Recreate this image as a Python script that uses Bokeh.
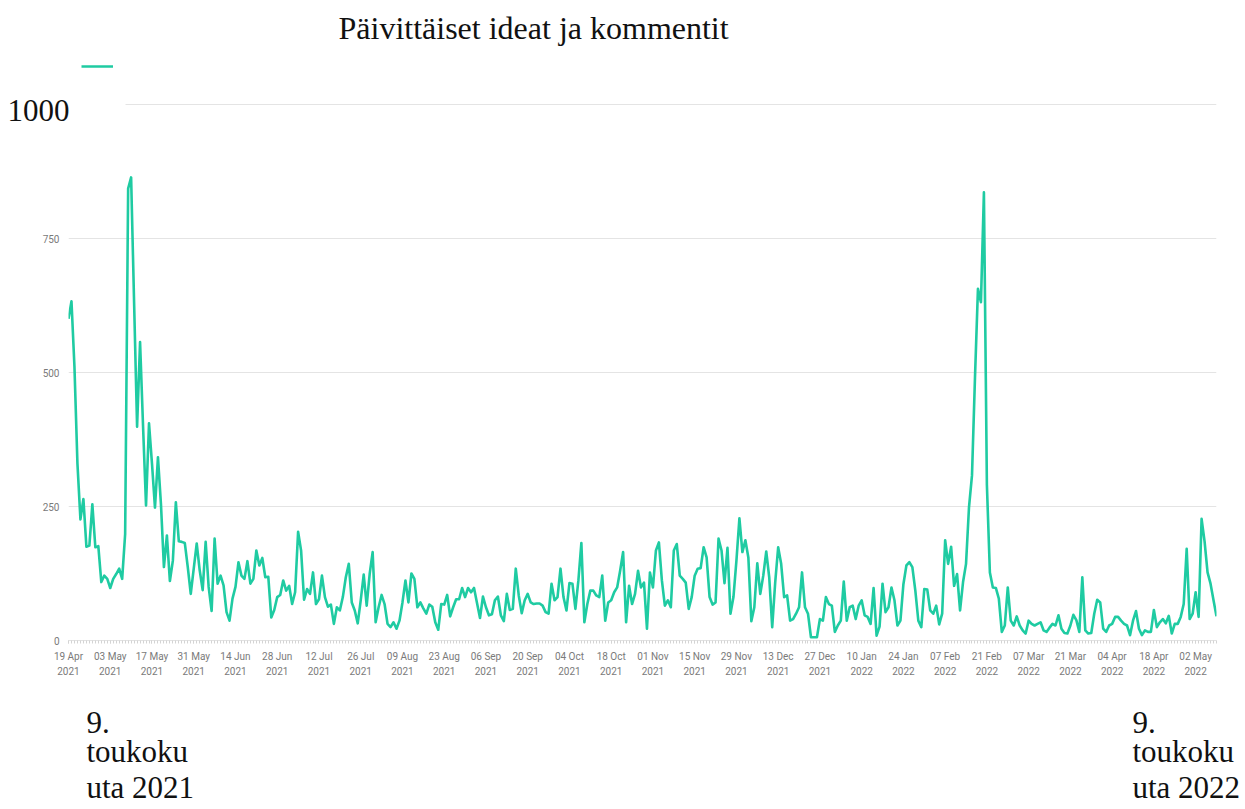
import pandas as pd
from bokeh.plotting import figure
from bokeh.models import (Range1d, FixedTicker, DatetimeTickFormatter, LinearAxis,
                          ColumnDataSource, Legend, LegendItem)
from bokeh.embed import file_html
from bokeh.resources import INLINE

title_text = "Päivittäiset ideat ja kommentit"
start_date = "2021-04-19"
daily_counts = [
    600, 633, 510, 330, 226, 264, 175, 177, 254, 174,
    176, 109, 121, 115, 98, 115, 124, 134, 115, 199,
    843, 864, 630, 399, 557, 400, 252, 405, 330, 248,
    342, 255, 137, 196, 111, 149, 258, 185, 184, 182,
    137, 87, 134, 181, 131, 94, 184, 100, 55, 190,
    106, 121, 103, 53, 37, 78, 100, 146, 121, 115,
    148, 106, 115, 168, 140, 154, 118, 119, 43, 57,
    81, 85, 112, 93, 102, 68, 90, 203, 168, 76,
    96, 87, 127, 68, 77, 121, 81, 63, 67, 31,
    62, 56, 81, 118, 143, 71, 56, 32, 75, 123,
    65, 124, 165, 34, 62, 85, 68, 31, 25, 34,
    22, 37, 71, 112, 71, 125, 115, 62, 71, 60,
    50, 67, 63, 34, 20, 68, 67, 85, 45, 62,
    77, 77, 98, 81, 98, 90, 98, 70, 42, 82,
    62, 47, 49, 75, 82, 47, 36, 87, 57, 59,
    134, 84, 51, 75, 87, 71, 68, 69, 69, 65,
    53, 50, 106, 75, 81, 134, 81, 56, 107, 106,
    59, 112, 182, 34, 68, 93, 93, 84, 81, 121,
    37, 71, 75, 90, 99, 130, 165, 34, 102, 68,
    87, 130, 99, 108, 22, 127, 99, 168, 183, 112,
    65, 75, 62, 168, 180, 121, 115, 108, 59, 81,
    121, 134, 135, 174, 155, 81, 67, 71, 190, 168,
    107, 173, 50, 81, 149, 228, 165, 187, 155, 36,
    62, 144, 87, 121, 166, 118, 25, 108, 174, 143,
    81, 84, 37, 40, 50, 62, 127, 62, 50, 6,
    6, 6, 40, 37, 81, 68, 65, 16, 28, 37,
    110, 37, 62, 65, 40, 65, 75, 47, 44, 31,
    98, 9, 26, 106, 53, 62, 99, 75, 28, 37,
    105, 140, 146, 137, 93, 37, 25, 96, 95, 56,
    50, 65, 30, 50, 187, 143, 175, 102, 124, 56,
    109, 143, 249, 308, 490, 656, 631, 836, 290, 127,
    99, 98, 78, 16, 28, 99, 37, 28, 45, 28,
    19, 13, 37, 31, 28, 31, 34, 19, 16, 24,
    31, 28, 47, 22, 14, 13, 28, 48, 38, 16,
    118, 19, 13, 14, 50, 76, 71, 22, 16, 28,
    31, 44, 44, 37, 31, 28, 10, 37, 55, 22,
    10, 19, 16, 16, 57, 25, 34, 40, 32, 46,
    13, 31, 31, 44, 68, 171, 40, 50, 90, 44,
    227, 185, 127, 106, 75, 45,
]
tick_start = "2021-04-19"
tick_end = "2022-05-02"
tick_step = "14D"
y_ticks = [0, 250, 500, 750]
y_top = 1000
left_note = ["9.", "toukoku", "uta 2021"]
right_note = ["9.", "toukoku", "uta 2022"]

LINE_COLOR = "#1fcba2"
GRID_COLOR = "#e4e4e4"
LABEL_GRAY = "#7a7a7a"
SERIF = "Liberation Serif"
INK = "#111111"

# ---- layout geometry (pixels) ----
W, H = 1245, 809
FRAME_L, FRAME_R, FRAME_T, FRAME_B = 68, 1216, 48, 640
Y_TOP_PX = 104                      # where the value y_top sits
px_per_unit = (FRAME_B - Y_TOP_PX) / y_top
y_end = y_top + (Y_TOP_PX - FRAME_T) / px_per_unit

dates = pd.date_range(start_date, periods=len(daily_counts), freq="D")
tick_dates = pd.date_range(tick_start, tick_end, freq=tick_step)
to_ms = lambda d: d.value / 1e6
tick_ms = [to_ms(d) for d in tick_dates]
minor_ms = [to_ms(d) for d in dates]

t0, t1 = to_ms(dates[0]), to_ms(dates[-1])
ms_per_px = (t1 - t0) / (FRAME_R - FRAME_L)
px_to_ms = lambda px: t0 + (px - FRAME_L) * ms_per_px

src = ColumnDataSource(data=dict(date=dates, count=daily_counts))

p = figure(width=W, height=H, x_axis_type="datetime",
           output_backend="svg", toolbar_location=None,
           x_range=Range1d(dates[0], dates[-1]),
           y_range=Range1d(0, y_end),
           min_border_left=FRAME_L, min_border_right=W - FRAME_R,
           min_border_top=FRAME_T, min_border_bottom=H - FRAME_B)
p.outline_line_color = None
p.background_fill_color = "white"
p.border_fill_color = "white"

line_r = p.line("date", "count", source=src, line_width=2.6, color=LINE_COLOR,
                line_join="round")

# top (1000) gridline, starting right of the big "1000" label
p.segment(x0=[px_to_ms(125)], y0=[y_top], x1=[t1], y1=[y_top],
          color=GRID_COLOR, line_width=1)

p.xgrid.visible = False
p.ygrid.ticker = FixedTicker(ticks=y_ticks)
p.ygrid.grid_line_color = GRID_COLOR
p.ygrid.grid_line_width = 1

# primary y axis: small grey labels
ya = p.yaxis[0]
ya.ticker = FixedTicker(ticks=y_ticks)
ya.axis_line_color = None
ya.major_tick_line_color = None
ya.minor_tick_line_color = None
ya.major_tick_out = 0
ya.major_tick_in = 0
ya.minor_tick_out = 0
ya.major_label_text_font = "Roboto"
ya.major_label_text_font_size = "10px"
ya.major_label_text_color = LABEL_GRAY
ya.major_label_standoff = 9

# secondary y axis: big serif "1000" (sits slightly below its gridline)
top_label_pos = y_top - 5.5 / px_per_unit
ya2 = LinearAxis(ticker=FixedTicker(ticks=[top_label_pos], minor_ticks=[]),
                 major_label_overrides={top_label_pos: str(y_top)})
ya2.axis_line_color = None
ya2.major_tick_line_color = None
ya2.minor_tick_line_color = None
ya2.major_tick_out = 0
ya2.major_tick_in = 0
ya2.minor_tick_out = 0
ya2.major_label_text_font = SERIF
ya2.major_label_text_font_size = "31px"
ya2.major_label_text_color = INK
ya2.major_label_standoff = -30
p.add_layout(ya2, "left")

# x axis with date labels
xa = p.xaxis[0]
xa.ticker = FixedTicker(ticks=tick_ms, minor_ticks=minor_ms)
fmt = "%d %b\n%Y"
xa.formatter = DatetimeTickFormatter(days=fmt, months=fmt, years=fmt,
                                     hours=fmt, minutes=fmt)
xa.axis_line_color = "#e2e2e2"
xa.major_tick_line_color = "#d4d4d4"
xa.minor_tick_line_color = "#d4d4d4"
xa.major_tick_in = 0
xa.major_tick_out = 3
xa.minor_tick_in = 0
xa.minor_tick_out = 3
xa.major_label_text_font = "Roboto"
xa.major_label_text_font_size = "10px"
xa.major_label_text_line_height = 1.45
xa.major_label_text_color = LABEL_GRAY
xa.major_label_standoff = 7

# bottom notes: one axis per text line, two labels each (left / right)
LEFT_X, RIGHT_X, EM = 86, 1132, 31
char_w = {"9.": 0.75, "toukoku": 3.278, "uta 2021": 3.472, "uta 2022": 3.472}
standoffs = [31, -2, -2]
for i, (lt, rt) in enumerate(zip(left_note, right_note)):
    lpos = px_to_ms(LEFT_X + char_w[lt] * EM / 2)
    rpos = px_to_ms(RIGHT_X + char_w[rt] * EM / 2)
    ax = LinearAxis(ticker=FixedTicker(ticks=[lpos, rpos], minor_ticks=[]),
                    major_label_overrides={lpos: lt, rpos: rt})
    ax.axis_line_color = None
    ax.major_tick_line_color = None
    ax.minor_tick_line_color = None
    ax.major_tick_out = 0
    ax.major_tick_in = 0
    ax.minor_tick_out = 0
    ax.major_label_text_font = SERIF
    ax.major_label_text_font_size = f"{EM}px"
    ax.major_label_text_color = INK
    ax.major_label_standoff = standoffs[i]
    p.add_layout(ax, "below")

# legend: short teal line only, in the empty band above the 1000 gridline
legend = Legend(items=[LegendItem(label=" ", renderers=[line_r])],
                location="top_left", orientation="horizontal",
                margin=13, padding=0, glyph_width=32, glyph_height=10,
                label_height=10, label_text_font_size="6px",
                border_line_color=None, background_fill_alpha=0)
p.add_layout(legend)

# title (above panel)
p.title.text = title_text
p.title.text_font = SERIF
p.title.text_font_size = "32px"
p.title.text_font_style = "normal"
p.title.text_color = INK
p.title.align = "left"
p.title.offset = 270
p.title.standoff = 5

open("out.html", "w").write(file_html(p, INLINE))
